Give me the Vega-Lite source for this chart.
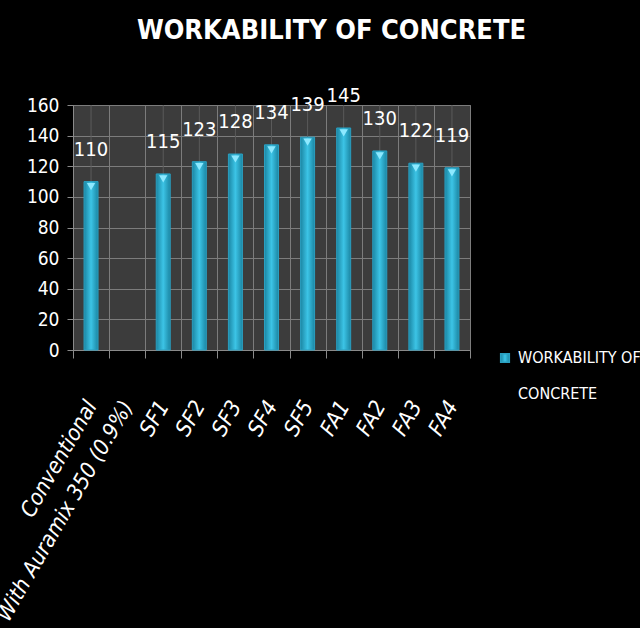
{
  "$schema": "https://vega.github.io/schema/vega-lite/v6.json",
  "width": 397,
  "height": 245,
  "autosize": {"type": "none"},
  "padding": {"left": 73, "top": 105, "right": 170, "bottom": 278},
  "background": "black",
  "config": {
    "view": {"fill": "#3c3c3c", "stroke": "#6e6e6e"},
    "font": "DejaVu Sans Condensed"
  },
  "title": {
    "text": "WORKABILITY OF CONCRETE",
    "color": "white",
    "fontSize": 27,
    "fontWeight": "bold",
    "font": "DejaVu Sans Condensed",
    "anchor": "middle",
    "dx": 60,
    "offset": 41
  },
  "data": {
    "values": [
      {"mix": "Conventional", "value": 110, "series": "WORKABILITY OF CONCRETE"},
      {"mix": "With Auramix 350 (0.9%)", "value": null, "series": "WORKABILITY OF CONCRETE"},
      {"mix": "SF1", "value": 115, "series": "WORKABILITY OF CONCRETE"},
      {"mix": "SF2", "value": 123, "series": "WORKABILITY OF CONCRETE"},
      {"mix": "SF3", "value": 128, "series": "WORKABILITY OF CONCRETE"},
      {"mix": "SF4", "value": 134, "series": "WORKABILITY OF CONCRETE"},
      {"mix": "SF5", "value": 139, "series": "WORKABILITY OF CONCRETE"},
      {"mix": "FA1", "value": 145, "series": "WORKABILITY OF CONCRETE"},
      {"mix": "FA2", "value": 130, "series": "WORKABILITY OF CONCRETE"},
      {"mix": "FA3", "value": 122, "series": "WORKABILITY OF CONCRETE"},
      {"mix": "FA4", "value": 119, "series": "WORKABILITY OF CONCRETE"}
    ]
  },
  "encoding": {
    "x": {
      "field": "mix",
      "type": "nominal",
      "sort": null,
      "scale": {
        "domain": ["Conventional", "With Auramix 350 (0.9%)", "SF1", "SF2", "SF3", "SF4", "SF5", "FA1", "FA2", "FA3", "FA4"],
        "paddingInner": 0,
        "paddingOuter": 0
      },
      "axis": {
        "title": null,
        "labelAngle": -60,
        "labelAlign": "right",
        "labelBaseline": "middle",
        "labelColor": "white",
        "labelFont": "DejaVu Sans Condensed",
        "labelFontSize": 22,
        "labelFontStyle": "italic",
        "labelPadding": 44,
        "labelLimit": 400,
        "tickBand": "extent",
        "tickSize": 8,
        "tickColor": "#8a8a8a",
        "domainColor": "#8a8a8a",
        "grid": true,
        "gridColor": "#7c7c7c"
      }
    },
    "y": {
      "field": "value",
      "type": "quantitative",
      "scale": {"domain": [0, 160]},
      "axis": {
        "title": null,
        "values": [0, 20, 40, 60, 80, 100, 120, 140, 160],
        "labelColor": "white",
        "labelFont": "DejaVu Sans Condensed",
        "labelFontSize": 19,
        "labelPadding": 8,
        "tickSize": 6,
        "tickColor": "#8a8a8a",
        "domainColor": "#8a8a8a",
        "gridColor": "#7c7c7c"
      }
    }
  },
  "layer": [
    {
      "mark": {"type": "rule", "color": "#5a5a5a", "strokeWidth": 1},
      "encoding": {
        "y": {"datum": 0},
        "y2": {"datum": 160}
      }
    },
    {
      "mark": {
        "type": "bar",
        "size": 14,
        "strokeWidth": 1,
        "fill": {
          "gradient": "linear",
          "x1": 0, "x2": 1, "y1": 0, "y2": 0,
          "stops": [
            {"offset": 0, "color": "#1b86a3"},
            {"offset": 0.5, "color": "#3cc4e6"},
            {"offset": 1, "color": "#1b86a3"}
          ]
        }
      },
      "encoding": {
        "stroke": {
          "field": "series",
          "type": "nominal",
          "scale": {"range": ["#2a9fc0"]},
          "legend": {
            "title": null,
            "orient": "none",
            "legendX": 424,
            "legendY": 245,
            "symbolType": "square",
            "symbolSize": 75,
            "symbolFillColor": "#2aa8c8",
            "symbolStrokeColor": "#2aa8c8",
            "labelOffset": 5,
            "labelColor": "white",
            "labelFontSize": 16,
            "labelFont": "DejaVu Sans Condensed",
            "labelLimit": 250,
            "labelExpr": "['WORKABILITY OF', '\u2800', 'CONCRETE']"
          }
        }
      }
    },
    {
      "mark": {"type": "point", "shape": "triangle-down", "filled": true, "color": "#8de9ff", "opacity": 1, "size": 70, "yOffset": 5}
    },
    {
      "mark": {"type": "text", "color": "white", "fontSize": 20, "dy": -32, "font": "DejaVu Sans Condensed"},
      "encoding": {
        "text": {"field": "value", "type": "quantitative"}
      }
    }
  ]
}
